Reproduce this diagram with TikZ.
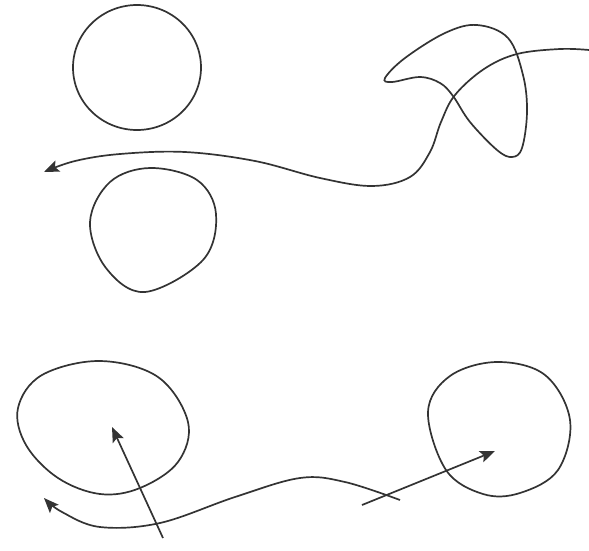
\documentclass[tikz,border=0pt]{standalone}
\usetikzlibrary{arrows.meta}
\begin{document}
\begin{tikzpicture}[x=1pt,y=-1pt,
  curve/.style={draw=black!80, line width=1.7pt},
  arr/.style={curve, -{Stealth[length=15pt,width=12pt,inset=3pt]}}]
\useasboundingbox (0,0) rectangle (589,550);
% top circle
\draw[curve] (137,67.5) ellipse [x radius=64, y radius=62.5];
% second blob
\draw[curve] plot[smooth cycle, tension=0.6] coordinates {(150,168) (197,180) (216,214) (203,260) (145,292) (106,268) (90,222) (110,182)};
% loop
\draw[curve] plot[smooth cycle, tension=0.6] coordinates {(385,78) (405,58) (445,33) (477,25) (508,38) (523,75) (527,112) (522,148) (512,157) (497,150) (470,122) (453,96) (440,83) (420,77) (392,82)};
% long arrowed line
\draw[arr] plot[smooth, tension=0.6] coordinates {(589,50) (560,49) (517,54) (484,69) (455,95) (441,122) (430,152) (410,177) (372,186) (320,178) (255,161) (185,152) (120,154) (75,161) (44,172)};
% bottom-left ellipse
\draw[curve] plot[smooth cycle, tension=0.6] coordinates {(18,408) (42,375) (100,361) (158,377) (188,422) (178,462) (140,488) (100,494) (58,478) (26,445)};
% bottom-right circle
\draw[curve] plot[smooth cycle, tension=0.6] coordinates {(428,412) (450,376) (497,362) (545,375) (570,420) (558,470) (520,493) (483,494) (446,470)};
% bottom curve with arrow
\draw[arr] plot[smooth, tension=0.6] coordinates {(400,500) (345,482) (300,478) (235,497) (160,523) (100,527) (62,512) (44,498)};
% straight arrows
\coordinate (a1) at (163,538); \coordinate (t1) at (112,427);
\draw[arr] (a1) -- (t1);
\coordinate (a2) at (362,505); \coordinate (t2) at (495,451);
\draw[arr] (a2) -- (t2);
\end{tikzpicture}
\end{document}
